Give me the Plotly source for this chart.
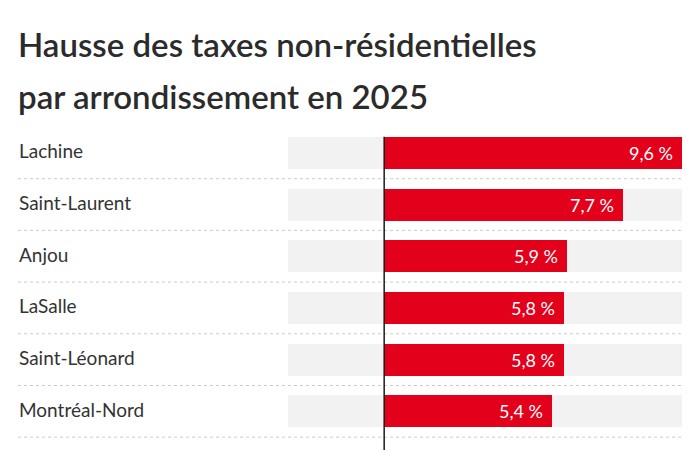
import plotly.graph_objects as go

# ---- data ----
arrondissements = ["Lachine", "Saint-Laurent", "Anjou", "LaSalle", "Saint-Léonard",
                   "Montréal-Nord", "Rivière-des-Prairies–<br>Pointe-aux-Trembles"]
hausse = [9.6, 7.7, 5.9, 5.8, 5.8, 5.4, 5.3]
label_lines = [1, 1, 1, 1, 1, 1, 2]
AXIS_MIN = -3.1   # left end of the grey track (scale)
AXIS_MAX = 9.6

title_1 = "Hausse des taxes non-résidentielles"
title_2 = "par arrondissement en 2025"

# ---- layout geometry ----
W, H = 700, 450
ML, MR, MT, MB = 288, 18, 127, 0
PW, PH = W - ML - MR, H - MT - MB
ROW = 51.7  # px per row unit

# row centres (in row units), taller rows for wrapped labels
ypos = []
acc = -0.5
for n in label_lines:
    h = 1.0 if n == 1 else 1.32
    ypos.append(acc + h / 2)
    acc += h
y_bottom = -0.5 + PH / ROW

def px_x_to_paper(px):
    return (px - ML) / PW
def px_y_to_paper(py):
    return (H - MB - py) / PH
def row_to_paper(yv):
    return px_y_to_paper(MT + (yv + 0.5) * ROW)

RED = "#e2001a"
GREY = "#f2f2f2"
TXT = "#333333"
FONT = "Lato"

fig = go.Figure()

# grey tracks
fig.add_trace(go.Bar(
    y=ypos, x=[AXIS_MAX - AXIS_MIN] * len(ypos), base=AXIS_MIN,
    orientation="h", width=0.62, marker=dict(color=GREY, line=dict(width=0)),
    hoverinfo="skip", showlegend=False))

# red bars
fig.add_trace(go.Bar(
    y=ypos, x=hausse, base=0, orientation="h", width=0.62,
    marker=dict(color=RED, line=dict(width=0)),
    hoverinfo="skip", showlegend=False))

# value labels
for yv, v in zip(ypos, hausse):
    if yv > y_bottom:
        continue
    fig.add_annotation(
        x=v, y=yv, xref="x", yref="y", xanchor="right", yanchor="middle",
        xshift=-7, showarrow=False,
        text=f"{v:.1f}".replace(".", ",") + "\u00a0%",
        font=dict(family=FONT, size=18, color="white"))

# category labels
for yv, name, n in zip(ypos, arrondissements, label_lines):
    fig.add_annotation(
        x=px_x_to_paper(17), y=row_to_paper(yv) + 2 / PH, xref="paper", yref="paper",
        xanchor="left", yanchor="middle", align="left", showarrow=False,
        text=name, font=dict(family=FONT, size=19, color=TXT))

# dotted separators
for i in range(len(ypos) - 1):
    ysep = ypos[i] + 0.5
    fig.add_shape(type="line", xref="paper", yref="y",
                  x0=px_x_to_paper(18), x1=1, y0=ysep, y1=ysep,
                  line=dict(color="#cccccc", width=1, dash="dot"))

# zero line
fig.add_shape(type="line", xref="x", yref="y", x0=0, x1=0,
              y0=ypos[0] - 0.31, y1=y_bottom + 1,
              line=dict(color="#1a1a1a", width=1.5))

# title
for txt, py in ((title_1, 44), (title_2, 96)):
    fig.add_annotation(text=txt, xref="paper", yref="paper",
                       x=px_x_to_paper(16), y=px_y_to_paper(py),
                       xanchor="left", yanchor="middle", showarrow=False,
                       font=dict(family=FONT, size=33, color="#2b2b2b", weight=600))

fig.update_layout(
    width=W, height=H,
    margin=dict(l=ML, r=MR, t=MT, b=MB, pad=0),
    paper_bgcolor="white", plot_bgcolor="white",
    barmode="overlay", bargap=0,
    xaxis=dict(range=[AXIS_MIN, AXIS_MAX], visible=False, fixedrange=True),
    yaxis=dict(range=[y_bottom, -0.5], visible=False, fixedrange=True),
    hovermode=False,
)

fig.write_html("out.html")
